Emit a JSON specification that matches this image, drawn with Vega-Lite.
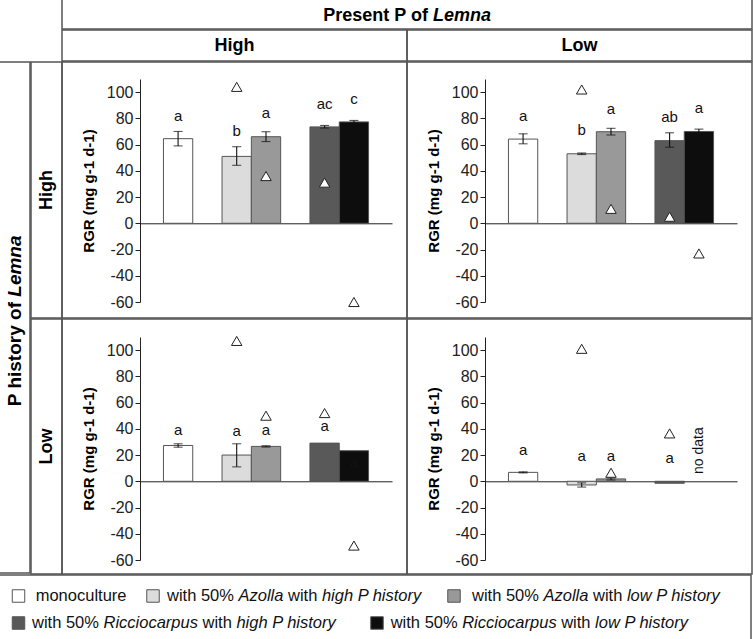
{
  "$schema": "https://vega.github.io/schema/vega-lite/v6.json",
  "padding": {"left": -2, "top": -2, "right": 0, "bottom": 0},
  "background": "white",
  "spacing": -4,
  "bounds": "full",
  "config": {
    "view": {"stroke": "#555", "strokeWidth": 1.5},
    "font": "Liberation Sans",
    "axis": {"labelFont": "Liberation Sans", "titleFont": "Liberation Sans"},
    "text": {"font": "Liberation Sans"}
  },
  "datasets": {
    "rgr": [
      {"pres": "High", "hist": "High", "grp": "mono", "mean": 64.5, "lo": 59, "hi": 70, "tri": null, "letter": "a", "ly": 82},
      {"pres": "High", "hist": "High", "grp": "azH", "mean": 51, "lo": 44.2, "hi": 58.4, "tri": 104, "letter": "b", "ly": 70},
      {"pres": "High", "hist": "High", "grp": "azL", "mean": 66, "lo": 62.3, "hi": 69.8, "tri": 36, "letter": "a", "ly": 84},
      {"pres": "High", "hist": "High", "grp": "riH", "mean": 73.5, "lo": 72.6, "hi": 74.6, "tri": 31, "letter": "ac", "ly": 91},
      {"pres": "High", "hist": "High", "grp": "riL", "mean": 77.3, "lo": 76.4, "hi": 78.4, "tri": -60, "letter": "c", "ly": 94.5},
      {"pres": "Low", "hist": "High", "grp": "mono", "mean": 64.2, "lo": 60.6, "hi": 68.2, "tri": null, "letter": "a", "ly": 82},
      {"pres": "Low", "hist": "High", "grp": "azH", "mean": 53, "lo": 52.4, "hi": 53.6, "tri": 102, "letter": "b", "ly": 71},
      {"pres": "Low", "hist": "High", "grp": "azL", "mean": 69.8, "lo": 67.3, "hi": 72.4, "tri": 11, "letter": "a", "ly": 87.5},
      {"pres": "Low", "hist": "High", "grp": "riH", "mean": 63, "lo": 58, "hi": 69, "tri": 5, "letter": "ab", "ly": 81},
      {"pres": "Low", "hist": "High", "grp": "riL", "mean": 70, "lo": 68.3, "hi": 71.8, "tri": -23, "letter": "a", "ly": 88},
      {"pres": "High", "hist": "Low", "grp": "mono", "mean": 27.3, "lo": 26, "hi": 28.6, "tri": null, "letter": "a", "ly": 39},
      {"pres": "High", "hist": "Low", "grp": "azH", "mean": 20, "lo": 11, "hi": 28.6, "tri": 107, "letter": "a", "ly": 38.5},
      {"pres": "High", "hist": "Low", "grp": "azL", "mean": 26.6, "lo": 26.1, "hi": 27.1, "tri": 50, "letter": "a", "ly": 39},
      {"pres": "High", "hist": "Low", "grp": "riH", "mean": 29.1, "lo": null, "hi": null, "tri": 52, "letter": "a", "ly": 42.5},
      {"pres": "High", "hist": "Low", "grp": "riL", "mean": 23.3, "lo": null, "hi": null, "tri": -49, "letter": "a", "ly": 14},
      {"pres": "Low", "hist": "Low", "grp": "mono", "mean": 6.8, "lo": 6.4, "hi": 7.2, "tri": null, "letter": "a", "ly": 23.5},
      {"pres": "Low", "hist": "Low", "grp": "azH", "mean": -2.8, "lo": -4.4, "hi": -1.2, "tri": 101, "letter": "a", "ly": 19},
      {"pres": "Low", "hist": "Low", "grp": "azL", "mean": 1.8, "lo": 1, "hi": 2.6, "tri": 6.5, "letter": "a", "ly": 19},
      {"pres": "Low", "hist": "Low", "grp": "riH", "mean": -1.5, "lo": null, "hi": null, "tri": 36.5, "letter": "a", "ly": 17.7},
      {"pres": "Low", "hist": "Low", "grp": "riL", "mean": null, "lo": null, "hi": null, "tri": null, "letter": null, "ly": null, "note": "no data", "ny": 23.4}
    ],
    "legend": [
      {"kind": "sw", "k": 1, "line": 1, "grp": "mono"},
      {"kind": "sw", "k": 2, "line": 1, "grp": "azH"},
      {"kind": "sw", "k": 3, "line": 1, "grp": "azL"},
      {"kind": "sw", "k": 4, "line": 2, "grp": "riH"},
      {"kind": "sw", "k": 5, "line": 2, "grp": "riL"},
      {"kind": "n", "k": 6, "line": 1, "text": "monoculture"},
      {"kind": "n", "k": 7, "line": 1, "text": "with 50%"},
      {"kind": "i", "k": 8, "line": 1, "text": "Azolla"},
      {"kind": "n", "k": 9, "line": 1, "text": "with"},
      {"kind": "i", "k": 10, "line": 1, "text": "high P history"},
      {"kind": "n", "k": 11, "line": 1, "text": "with 50%"},
      {"kind": "i", "k": 12, "line": 1, "text": "Azolla"},
      {"kind": "n", "k": 13, "line": 1, "text": "with"},
      {"kind": "i", "k": 14, "line": 1, "text": "low P history"},
      {"kind": "n", "k": 15, "line": 2, "text": "with 50%"},
      {"kind": "i", "k": 16, "line": 2, "text": "Ricciocarpus"},
      {"kind": "n", "k": 17, "line": 2, "text": "with"},
      {"kind": "i", "k": 18, "line": 2, "text": "high P history"},
      {"kind": "n", "k": 19, "line": 2, "text": "with 50%"},
      {"kind": "i", "k": 20, "line": 2, "text": "Ricciocarpus"},
      {"kind": "n", "k": 21, "line": 2, "text": "with"},
      {"kind": "i", "k": 22, "line": 2, "text": "low P history"}
    ]
  },
  "resolve": {"scale": {"x": "independent", "y": "independent"}},
  "vconcat": [
    {
      "spacing": -4,
      "bounds": "full",
      "resolve": {"scale": {"x": "independent", "y": "independent"}},
      "hconcat": [
        {
          "width": 62, "height": 61,
          "view": {"stroke": "transparent"},
          "data": {"values": [{"t": ""}]},
          "mark": {"type": "text"},
          "encoding": {"text": {"field": "t"}}
        },
        {
          "spacing": -4,
          "bounds": "full",
          "resolve": {"scale": {"x": "independent", "y": "independent"}},
          "vconcat": [
            {
              "width": 690, "height": 30,
              "data": {"values": [{"a": "Present P of", "b": "Lemna"}]},
              "layer": [
                {
                  "mark": {"type": "text", "fontSize": 18, "fontWeight": "bold", "align": "right", "baseline": "middle", "color": "#000"},
                  "encoding": {
                    "x": {"datum": 0.5304, "type": "quantitative", "scale": {"domain": [0, 1]}, "axis": null},
                    "y": {"datum": 0.43, "type": "quantitative", "scale": {"domain": [0, 1]}, "axis": null},
                    "text": {"field": "a"}
                  }
                },
                {
                  "mark": {"type": "text", "fontSize": 18, "fontWeight": "bold", "fontStyle": "italic", "align": "left", "baseline": "middle", "color": "#000"},
                  "encoding": {
                    "x": {"datum": 0.5377, "type": "quantitative", "scale": {"domain": [0, 1]}, "axis": null},
                    "y": {"datum": 0.43, "type": "quantitative", "scale": {"domain": [0, 1]}, "axis": null},
                    "text": {"field": "b"}
                  }
                }
              ]
            },
            {
              "spacing": 0,
              "bounds": "flush",
              "resolve": {"scale": {"x": "independent", "y": "independent"}},
              "hconcat": [
                {
                  "width": 345, "height": 31,
                  "data": {"values": [{"t": "High"}]},
                  "mark": {"type": "text", "fontSize": 18, "fontWeight": "bold", "align": "center", "baseline": "middle", "color": "#000"},
                  "encoding": {
                    "x": {"datum": 0.5, "type": "quantitative", "scale": {"domain": [0, 1]}, "axis": null},
                    "y": {"datum": 0.47, "type": "quantitative", "scale": {"domain": [0, 1]}, "axis": null},
                    "text": {"field": "t"}
                  }
                },
                {
                  "width": 345, "height": 31,
                  "data": {"values": [{"t": "Low"}]},
                  "mark": {"type": "text", "fontSize": 18, "fontWeight": "bold", "align": "center", "baseline": "middle", "color": "#000"},
                  "encoding": {
                    "x": {"datum": 0.5, "type": "quantitative", "scale": {"domain": [0, 1]}, "axis": null},
                    "y": {"datum": 0.47, "type": "quantitative", "scale": {"domain": [0, 1]}, "axis": null},
                    "text": {"field": "t"}
                  }
                }
              ]
            }
          ]
        }
      ]
    },
    {
      "spacing": -4,
      "bounds": "full",
      "resolve": {"scale": {"x": "independent", "y": "independent"}},
      "hconcat": [
        {
          "width": 31, "height": 511,
          "data": {"values": [{"a": "P history of", "b": "Lemna"}]},
          "layer": [
            {
              "mark": {"type": "text", "fontSize": 19, "fontWeight": "bold", "align": "right", "baseline": "middle", "angle": 270, "color": "#000"},
              "encoding": {
                "x": {"datum": 0.5, "type": "quantitative", "scale": {"domain": [0, 1]}, "axis": null},
                "y": {"datum": 0.5303, "type": "quantitative", "scale": {"domain": [0, 1]}, "axis": null},
                "text": {"field": "a"}
              }
            },
            {
              "mark": {"type": "text", "fontSize": 19, "fontWeight": "bold", "fontStyle": "italic", "align": "left", "baseline": "middle", "angle": 270, "color": "#000"},
              "encoding": {
                "x": {"datum": 0.5, "type": "quantitative", "scale": {"domain": [0, 1]}, "axis": null},
                "y": {"datum": 0.5407, "type": "quantitative", "scale": {"domain": [0, 1]}, "axis": null},
                "text": {"field": "b"}
              }
            }
          ]
        },
        {
          "spacing": -4,
          "bounds": "full",
          "resolve": {"scale": {"x": "independent", "y": "independent"}},
          "vconcat": [
            {
              "spacing": 0,
              "bounds": "flush",
              "resolve": {"scale": {"x": "independent", "y": "independent"}},
              "hconcat": [
                {
                  "width": 31, "height": 256,
                  "data": {"values": [{"t": "High"}]},
                  "mark": {"type": "text", "fontSize": 18, "fontWeight": "bold", "align": "center", "baseline": "middle", "angle": 270, "color": "#000"},
                  "encoding": {
                    "x": {"datum": 0.5, "type": "quantitative", "scale": {"domain": [0, 1]}, "axis": null},
                    "y": {"datum": 0.5, "type": "quantitative", "scale": {"domain": [0, 1]}, "axis": null},
                    "text": {"field": "t"}
                  }
                },
                {
                  "width": 345, "height": 256,
                  "data": {"name": "rgr"},
                  "transform": [{"filter": "datum.pres === 'High' && datum.hist === 'High'"}],
                  "encoding": {
                    "x": {"field": "grp", "type": "nominal", "scale": {"domain": ["mono", "g1", "azH", "azL", "g2", "riH", "riL"], "range": [78, 330], "paddingInner": 0, "paddingOuter": 0.8}, "axis": {"orient": "bottom", "offset": -94.71, "labels": false, "ticks": false, "title": null, "domain": true, "domainColor": "#222", "domainWidth": 1, "grid": false}}
                  },
                  "layer": [
                    {"mark": {"type": "bar", "stroke": "#555", "strokeWidth": 1}, "encoding": {"y": {"field": "mean", "type": "quantitative", "scale": {"domain": [-60, 110], "range": [240, 17], "nice": false}, "axis": {"title": "RGR (mg g-1 d-1)", "values": [-60, -40, -20, 0, 20, 40, 60, 80, 100], "labelExpr": "'' + datum.value", "labelOverlap": false, "offset": -78, "grid": false, "tickSize": 5, "tickColor": "#222", "domainColor": "#222", "labelFontSize": 16, "labelColor": "#222", "labelPadding": 2, "titleFontSize": 15, "titleFontWeight": "bold", "titleColor": "#000", "titlePadding": 10}}, "y2": {"datum": 0}, "fill": {"field": "grp", "type": "nominal", "scale": {"domain": ["mono", "azH", "azL", "riH", "riL"], "range": ["#ffffff", "#dcdcdc", "#999999", "#595959", "#0d0d0d"]}, "legend": null}}},
                    {"mark": {"type": "rule", "color": "#111", "strokeWidth": 1.1}, "encoding": {"y": {"field": "lo", "type": "quantitative", "axis": {"title": "RGR (mg g-1 d-1)", "values": [-60, -40, -20, 0, 20, 40, 60, 80, 100], "labelExpr": "'' + datum.value", "labelOverlap": false, "offset": -78, "grid": false, "tickSize": 5, "tickColor": "#222", "domainColor": "#222", "labelFontSize": 16, "labelColor": "#222", "labelPadding": 2, "titleFontSize": 15, "titleFontWeight": "bold", "titleColor": "#000", "titlePadding": 10}}, "y2": {"field": "hi"}}},
                    {"transform": [{"fold": ["lo", "hi"], "as": ["ek", "ev"]}], "mark": {"type": "tick", "color": "#111", "size": 9, "thickness": 1.1}, "encoding": {"y": {"field": "ev", "type": "quantitative", "axis": {"title": "RGR (mg g-1 d-1)", "values": [-60, -40, -20, 0, 20, 40, 60, 80, 100], "labelExpr": "'' + datum.value", "labelOverlap": false, "offset": -78, "grid": false, "tickSize": 5, "tickColor": "#222", "domainColor": "#222", "labelFontSize": 16, "labelColor": "#222", "labelPadding": 2, "titleFontSize": 15, "titleFontWeight": "bold", "titleColor": "#000", "titlePadding": 10}}}},
                    {"mark": {"type": "point", "shape": "triangle-up", "filled": true, "fill": "#ffffff", "stroke": "#222", "strokeWidth": 1, "size": 110, "opacity": 1}, "encoding": {"y": {"field": "tri", "type": "quantitative", "axis": {"title": "RGR (mg g-1 d-1)", "values": [-60, -40, -20, 0, 20, 40, 60, 80, 100], "labelExpr": "'' + datum.value", "labelOverlap": false, "offset": -78, "grid": false, "tickSize": 5, "tickColor": "#222", "domainColor": "#222", "labelFontSize": 16, "labelColor": "#222", "labelPadding": 2, "titleFontSize": 15, "titleFontWeight": "bold", "titleColor": "#000", "titlePadding": 10}}}},
                    {"mark": {"type": "text", "fontSize": 15, "color": "#111", "baseline": "middle"}, "encoding": {"y": {"field": "ly", "type": "quantitative", "axis": {"title": "RGR (mg g-1 d-1)", "values": [-60, -40, -20, 0, 20, 40, 60, 80, 100], "labelExpr": "'' + datum.value", "labelOverlap": false, "offset": -78, "grid": false, "tickSize": 5, "tickColor": "#222", "domainColor": "#222", "labelFontSize": 16, "labelColor": "#222", "labelPadding": 2, "titleFontSize": 15, "titleFontWeight": "bold", "titleColor": "#000", "titlePadding": 10}}, "text": {"field": "letter"}}}
                  ]
                },
                {
                  "width": 345, "height": 256,
                  "data": {"name": "rgr"},
                  "transform": [{"filter": "datum.pres === 'Low' && datum.hist === 'High'"}],
                  "encoding": {
                    "x": {"field": "grp", "type": "nominal", "scale": {"domain": ["mono", "g1", "azH", "azL", "g2", "riH", "riL"], "range": [78, 330], "paddingInner": 0, "paddingOuter": 0.8}, "axis": {"orient": "bottom", "offset": -94.71, "labels": false, "ticks": false, "title": null, "domain": true, "domainColor": "#222", "domainWidth": 1, "grid": false}}
                  },
                  "layer": [
                    {"mark": {"type": "bar", "stroke": "#555", "strokeWidth": 1}, "encoding": {"y": {"field": "mean", "type": "quantitative", "scale": {"domain": [-60, 110], "range": [240, 17], "nice": false}, "axis": {"title": "RGR (mg g-1 d-1)", "values": [-60, -40, -20, 0, 20, 40, 60, 80, 100], "labelExpr": "'' + datum.value", "labelOverlap": false, "offset": -78, "grid": false, "tickSize": 5, "tickColor": "#222", "domainColor": "#222", "labelFontSize": 16, "labelColor": "#222", "labelPadding": 2, "titleFontSize": 15, "titleFontWeight": "bold", "titleColor": "#000", "titlePadding": 10}}, "y2": {"datum": 0}, "fill": {"field": "grp", "type": "nominal", "scale": {"domain": ["mono", "azH", "azL", "riH", "riL"], "range": ["#ffffff", "#dcdcdc", "#999999", "#595959", "#0d0d0d"]}, "legend": null}}},
                    {"mark": {"type": "rule", "color": "#111", "strokeWidth": 1.1}, "encoding": {"y": {"field": "lo", "type": "quantitative", "axis": {"title": "RGR (mg g-1 d-1)", "values": [-60, -40, -20, 0, 20, 40, 60, 80, 100], "labelExpr": "'' + datum.value", "labelOverlap": false, "offset": -78, "grid": false, "tickSize": 5, "tickColor": "#222", "domainColor": "#222", "labelFontSize": 16, "labelColor": "#222", "labelPadding": 2, "titleFontSize": 15, "titleFontWeight": "bold", "titleColor": "#000", "titlePadding": 10}}, "y2": {"field": "hi"}}},
                    {"transform": [{"fold": ["lo", "hi"], "as": ["ek", "ev"]}], "mark": {"type": "tick", "color": "#111", "size": 9, "thickness": 1.1}, "encoding": {"y": {"field": "ev", "type": "quantitative", "axis": {"title": "RGR (mg g-1 d-1)", "values": [-60, -40, -20, 0, 20, 40, 60, 80, 100], "labelExpr": "'' + datum.value", "labelOverlap": false, "offset": -78, "grid": false, "tickSize": 5, "tickColor": "#222", "domainColor": "#222", "labelFontSize": 16, "labelColor": "#222", "labelPadding": 2, "titleFontSize": 15, "titleFontWeight": "bold", "titleColor": "#000", "titlePadding": 10}}}},
                    {"mark": {"type": "point", "shape": "triangle-up", "filled": true, "fill": "#ffffff", "stroke": "#222", "strokeWidth": 1, "size": 110, "opacity": 1}, "encoding": {"y": {"field": "tri", "type": "quantitative", "axis": {"title": "RGR (mg g-1 d-1)", "values": [-60, -40, -20, 0, 20, 40, 60, 80, 100], "labelExpr": "'' + datum.value", "labelOverlap": false, "offset": -78, "grid": false, "tickSize": 5, "tickColor": "#222", "domainColor": "#222", "labelFontSize": 16, "labelColor": "#222", "labelPadding": 2, "titleFontSize": 15, "titleFontWeight": "bold", "titleColor": "#000", "titlePadding": 10}}}},
                    {"mark": {"type": "text", "fontSize": 15, "color": "#111", "baseline": "middle"}, "encoding": {"y": {"field": "ly", "type": "quantitative", "axis": {"title": "RGR (mg g-1 d-1)", "values": [-60, -40, -20, 0, 20, 40, 60, 80, 100], "labelExpr": "'' + datum.value", "labelOverlap": false, "offset": -78, "grid": false, "tickSize": 5, "tickColor": "#222", "domainColor": "#222", "labelFontSize": 16, "labelColor": "#222", "labelPadding": 2, "titleFontSize": 15, "titleFontWeight": "bold", "titleColor": "#000", "titlePadding": 10}}, "text": {"field": "letter"}}}
                  ]
                }
              ]
            },
            {
              "spacing": 0,
              "bounds": "flush",
              "resolve": {"scale": {"x": "independent", "y": "independent"}},
              "hconcat": [
                {
                  "width": 31, "height": 255,
                  "data": {"values": [{"t": "Low"}]},
                  "mark": {"type": "text", "fontSize": 18, "fontWeight": "bold", "align": "center", "baseline": "middle", "angle": 270, "color": "#000"},
                  "encoding": {
                    "x": {"datum": 0.5, "type": "quantitative", "scale": {"domain": [0, 1]}, "axis": null},
                    "y": {"datum": 0.5, "type": "quantitative", "scale": {"domain": [0, 1]}, "axis": null},
                    "text": {"field": "t"}
                  }
                },
                {
                  "width": 345, "height": 255,
                  "data": {"name": "rgr"},
                  "transform": [{"filter": "datum.pres === 'High' && datum.hist === 'Low'"}],
                  "encoding": {
                    "x": {"field": "grp", "type": "nominal", "scale": {"domain": ["mono", "g1", "azH", "azL", "g2", "riH", "riL"], "range": [78, 330], "paddingInner": 0, "paddingOuter": 0.8}, "axis": {"orient": "bottom", "offset": -92.71, "labels": false, "ticks": false, "title": null, "domain": true, "domainColor": "#222", "domainWidth": 1, "grid": false}}
                  },
                  "layer": [
                    {"mark": {"type": "bar", "stroke": "#555", "strokeWidth": 1}, "encoding": {"y": {"field": "mean", "type": "quantitative", "scale": {"domain": [-60, 110], "range": [241, 18], "nice": false}, "axis": {"title": "RGR (mg g-1 d-1)", "values": [-60, -40, -20, 0, 20, 40, 60, 80, 100], "labelExpr": "'' + datum.value", "labelOverlap": false, "offset": -78, "grid": false, "tickSize": 5, "tickColor": "#222", "domainColor": "#222", "labelFontSize": 16, "labelColor": "#222", "labelPadding": 2, "titleFontSize": 15, "titleFontWeight": "bold", "titleColor": "#000", "titlePadding": 10}}, "y2": {"datum": 0}, "fill": {"field": "grp", "type": "nominal", "scale": {"domain": ["mono", "azH", "azL", "riH", "riL"], "range": ["#ffffff", "#dcdcdc", "#999999", "#595959", "#0d0d0d"]}, "legend": null}}},
                    {"mark": {"type": "rule", "color": "#111", "strokeWidth": 1.1}, "encoding": {"y": {"field": "lo", "type": "quantitative", "axis": {"title": "RGR (mg g-1 d-1)", "values": [-60, -40, -20, 0, 20, 40, 60, 80, 100], "labelExpr": "'' + datum.value", "labelOverlap": false, "offset": -78, "grid": false, "tickSize": 5, "tickColor": "#222", "domainColor": "#222", "labelFontSize": 16, "labelColor": "#222", "labelPadding": 2, "titleFontSize": 15, "titleFontWeight": "bold", "titleColor": "#000", "titlePadding": 10}}, "y2": {"field": "hi"}}},
                    {"transform": [{"fold": ["lo", "hi"], "as": ["ek", "ev"]}], "mark": {"type": "tick", "color": "#111", "size": 9, "thickness": 1.1}, "encoding": {"y": {"field": "ev", "type": "quantitative", "axis": {"title": "RGR (mg g-1 d-1)", "values": [-60, -40, -20, 0, 20, 40, 60, 80, 100], "labelExpr": "'' + datum.value", "labelOverlap": false, "offset": -78, "grid": false, "tickSize": 5, "tickColor": "#222", "domainColor": "#222", "labelFontSize": 16, "labelColor": "#222", "labelPadding": 2, "titleFontSize": 15, "titleFontWeight": "bold", "titleColor": "#000", "titlePadding": 10}}}},
                    {"mark": {"type": "point", "shape": "triangle-up", "filled": true, "fill": "#ffffff", "stroke": "#222", "strokeWidth": 1, "size": 110, "opacity": 1}, "encoding": {"y": {"field": "tri", "type": "quantitative", "axis": {"title": "RGR (mg g-1 d-1)", "values": [-60, -40, -20, 0, 20, 40, 60, 80, 100], "labelExpr": "'' + datum.value", "labelOverlap": false, "offset": -78, "grid": false, "tickSize": 5, "tickColor": "#222", "domainColor": "#222", "labelFontSize": 16, "labelColor": "#222", "labelPadding": 2, "titleFontSize": 15, "titleFontWeight": "bold", "titleColor": "#000", "titlePadding": 10}}}},
                    {"mark": {"type": "text", "fontSize": 15, "color": "#111", "baseline": "middle"}, "encoding": {"y": {"field": "ly", "type": "quantitative", "axis": {"title": "RGR (mg g-1 d-1)", "values": [-60, -40, -20, 0, 20, 40, 60, 80, 100], "labelExpr": "'' + datum.value", "labelOverlap": false, "offset": -78, "grid": false, "tickSize": 5, "tickColor": "#222", "domainColor": "#222", "labelFontSize": 16, "labelColor": "#222", "labelPadding": 2, "titleFontSize": 15, "titleFontWeight": "bold", "titleColor": "#000", "titlePadding": 10}}, "text": {"field": "letter"}}}
                  ]
                },
                {
                  "width": 345, "height": 255,
                  "data": {"name": "rgr"},
                  "transform": [{"filter": "datum.pres === 'Low' && datum.hist === 'Low'"}],
                  "encoding": {
                    "x": {"field": "grp", "type": "nominal", "scale": {"domain": ["mono", "g1", "azH", "azL", "g2", "riH", "riL"], "range": [78, 330], "paddingInner": 0, "paddingOuter": 0.8}, "axis": {"orient": "bottom", "offset": -92.71, "labels": false, "ticks": false, "title": null, "domain": true, "domainColor": "#222", "domainWidth": 1, "grid": false}}
                  },
                  "layer": [
                    {"mark": {"type": "bar", "stroke": "#555", "strokeWidth": 1}, "encoding": {"y": {"field": "mean", "type": "quantitative", "scale": {"domain": [-60, 110], "range": [241, 18], "nice": false}, "axis": {"title": "RGR (mg g-1 d-1)", "values": [-60, -40, -20, 0, 20, 40, 60, 80, 100], "labelExpr": "'' + datum.value", "labelOverlap": false, "offset": -78, "grid": false, "tickSize": 5, "tickColor": "#222", "domainColor": "#222", "labelFontSize": 16, "labelColor": "#222", "labelPadding": 2, "titleFontSize": 15, "titleFontWeight": "bold", "titleColor": "#000", "titlePadding": 10}}, "y2": {"datum": 0}, "fill": {"field": "grp", "type": "nominal", "scale": {"domain": ["mono", "azH", "azL", "riH", "riL"], "range": ["#ffffff", "#dcdcdc", "#999999", "#595959", "#0d0d0d"]}, "legend": null}}},
                    {"mark": {"type": "rule", "color": "#111", "strokeWidth": 1.1}, "encoding": {"y": {"field": "lo", "type": "quantitative", "axis": {"title": "RGR (mg g-1 d-1)", "values": [-60, -40, -20, 0, 20, 40, 60, 80, 100], "labelExpr": "'' + datum.value", "labelOverlap": false, "offset": -78, "grid": false, "tickSize": 5, "tickColor": "#222", "domainColor": "#222", "labelFontSize": 16, "labelColor": "#222", "labelPadding": 2, "titleFontSize": 15, "titleFontWeight": "bold", "titleColor": "#000", "titlePadding": 10}}, "y2": {"field": "hi"}}},
                    {"transform": [{"fold": ["lo", "hi"], "as": ["ek", "ev"]}], "mark": {"type": "tick", "color": "#111", "size": 9, "thickness": 1.1}, "encoding": {"y": {"field": "ev", "type": "quantitative", "axis": {"title": "RGR (mg g-1 d-1)", "values": [-60, -40, -20, 0, 20, 40, 60, 80, 100], "labelExpr": "'' + datum.value", "labelOverlap": false, "offset": -78, "grid": false, "tickSize": 5, "tickColor": "#222", "domainColor": "#222", "labelFontSize": 16, "labelColor": "#222", "labelPadding": 2, "titleFontSize": 15, "titleFontWeight": "bold", "titleColor": "#000", "titlePadding": 10}}}},
                    {"mark": {"type": "point", "shape": "triangle-up", "filled": true, "fill": "#ffffff", "stroke": "#222", "strokeWidth": 1, "size": 110, "opacity": 1}, "encoding": {"y": {"field": "tri", "type": "quantitative", "axis": {"title": "RGR (mg g-1 d-1)", "values": [-60, -40, -20, 0, 20, 40, 60, 80, 100], "labelExpr": "'' + datum.value", "labelOverlap": false, "offset": -78, "grid": false, "tickSize": 5, "tickColor": "#222", "domainColor": "#222", "labelFontSize": 16, "labelColor": "#222", "labelPadding": 2, "titleFontSize": 15, "titleFontWeight": "bold", "titleColor": "#000", "titlePadding": 10}}}},
                    {"mark": {"type": "text", "fontSize": 15, "color": "#111", "baseline": "middle"}, "encoding": {"y": {"field": "ly", "type": "quantitative", "axis": {"title": "RGR (mg g-1 d-1)", "values": [-60, -40, -20, 0, 20, 40, 60, 80, 100], "labelExpr": "'' + datum.value", "labelOverlap": false, "offset": -78, "grid": false, "tickSize": 5, "tickColor": "#222", "domainColor": "#222", "labelFontSize": 16, "labelColor": "#222", "labelPadding": 2, "titleFontSize": 15, "titleFontWeight": "bold", "titleColor": "#000", "titlePadding": 10}}, "text": {"field": "letter"}}},
                    {"mark": {"type": "text", "fontSize": 14, "color": "#111", "baseline": "middle", "align": "center", "angle": 270}, "encoding": {"y": {"field": "ny", "type": "quantitative", "axis": {"title": "RGR (mg g-1 d-1)", "values": [-60, -40, -20, 0, 20, 40, 60, 80, 100], "labelExpr": "'' + datum.value", "labelOverlap": false, "offset": -78, "grid": false, "tickSize": 5, "tickColor": "#222", "domainColor": "#222", "labelFontSize": 16, "labelColor": "#222", "labelPadding": 2, "titleFontSize": 15, "titleFontWeight": "bold", "titleColor": "#000", "titlePadding": 10}}, "text": {"field": "note"}}}
                  ]
                }
              ]
            }
          ]
        }
      ]
    },
    {
      "width": 752, "height": 66,
      "data": {"name": "legend"},
      "encoding": {
        "x": {"field": "k", "type": "quantitative", "scale": {"domain": [1, 2, 3, 4, 5, 6, 7, 8, 9, 10, 11, 12, 13, 14, 15, 16, 17, 18, 19, 20, 21, 22], "range": [19.5, 154, 455, 19.5, 378, 36.7, 168, 239.5, 289, 322.9, 473, 544.5, 594, 627.9, 33, 104.5, 203.5, 237.4, 391.7, 463.2, 562.2, 596.1], "nice": false, "zero": false}, "axis": null},
        "y": {"field": "line", "type": "quantitative", "scale": {"domain": [1, 2], "range": [21, 48], "nice": false, "zero": false}, "axis": null}
      },
      "layer": [
        {
          "transform": [{"filter": "datum.kind === 'sw'"}],
          "mark": {"type": "point", "shape": "square", "filled": true, "size": 156, "stroke": "#555", "strokeWidth": 1, "opacity": 1},
          "encoding": {"fill": {"field": "grp", "type": "nominal", "scale": {"domain": ["mono", "azH", "azL", "riH", "riL"], "range": ["#ffffff", "#dcdcdc", "#999999", "#595959", "#0d0d0d"]}, "legend": null}}
        },
        {
          "transform": [{"filter": "datum.kind === 'n'"}],
          "mark": {"type": "text", "fontSize": 16.5, "align": "left", "baseline": "middle", "color": "#111"},
          "encoding": {"text": {"field": "text"}}
        },
        {
          "transform": [{"filter": "datum.kind === 'i'"}],
          "mark": {"type": "text", "fontSize": 16.5, "fontStyle": "italic", "align": "left", "baseline": "middle", "color": "#111"},
          "encoding": {"text": {"field": "text"}}
        }
      ]
    }
  ]
}
